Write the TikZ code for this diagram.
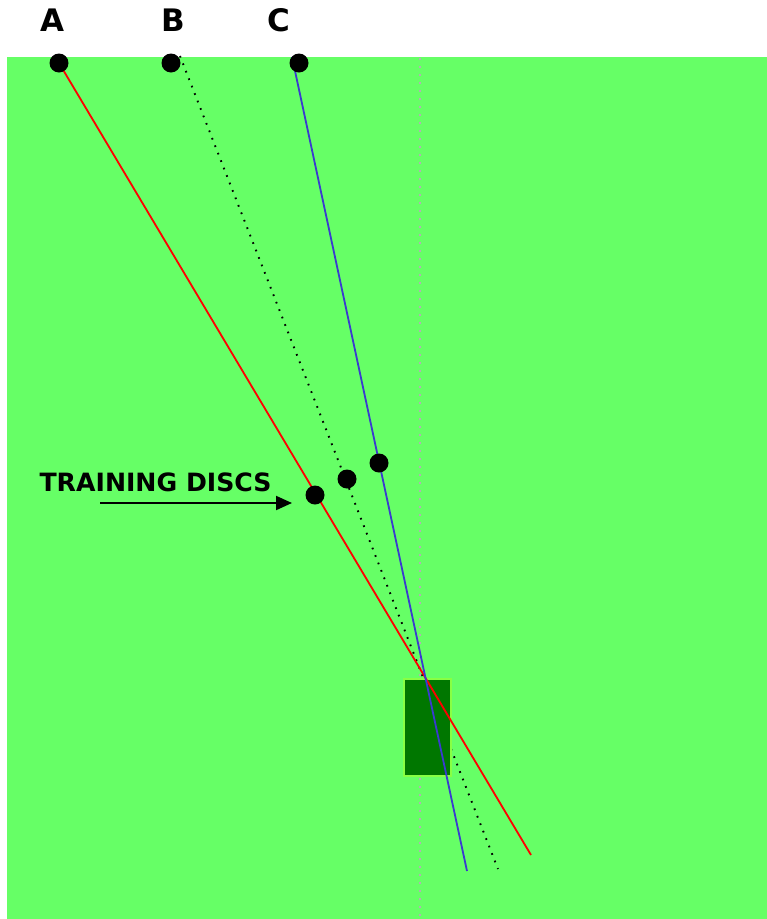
\documentclass[tikz,border=0pt]{standalone}
\usepackage{fontspec}
\setmainfont{DejaVu Sans}
\usetikzlibrary{arrows.meta}
\definecolor{field}{HTML}{66FF66}
\definecolor{tee}{HTML}{007700}
\definecolor{teeedge}{HTML}{88FF44}
\definecolor{blueline}{HTML}{3A3AD0}
\pgfdeclarelayer{ground}
\pgfdeclarelayer{paths}
\pgfsetlayers{ground,paths,main}

\begin{document}
\begin{tikzpicture}[
  x=1pt,y=-1pt,
  >={Triangle[length=16pt,width=14pt]},
  disc/.style={circle,fill=black,inner sep=0pt,minimum size=19pt},
  letter/.style={font=\fontsize{31}{31}\selectfont\bfseries},
  note/.style={font=\fontsize{25.2}{25.2}\selectfont\bfseries,anchor=west},
  path red/.style={red,line width=1.8pt},
  path blue/.style={blueline,line width=1.8pt},
  path dot/.style={black,line width=1.9pt,dash pattern=on 1.7pt off 6.3pt},
  centre line/.style={black!30,line width=1.8pt,dash pattern=on 1.8pt off 6.2pt}
]
  \useasboundingbox (0,0) rectangle (767,919);

  % start points
  \node[disc] (A) at (59,63) {};
  \node[disc] (B) at (171,63) {};
  \node[disc] (C) at (299,63) {};
  \node[letter] (labA) at (52,20) {A};
  \node[letter] (labB) at (173,20) {B};
  \node[letter] (labC) at (279,20) {C};

  % training discs
  \node[disc] (d1) at (315,495) {};
  \node[disc] (d2) at (347,479) {};
  \node[disc] (d3) at (379,463) {};
  \node[note] (lab) at (36,482) {TRAINING DISCS};
  \coordinate (tail) at (100,503);
  \coordinate (head) at (292,503);
  \draw[->,line width=2pt] (tail) -- (head);

  \coordinate (Bstart) at (180,56);
  \coordinate (Cstart) at (292,57);
  \coordinate (Aend) at (531,855);
  \coordinate (Bend) at (498,869);
  \coordinate (Cend) at (467,871);

  \begin{pgfonlayer}{ground}
    \fill[field] (7,57) rectangle (767,919);
    \draw[centre line] (420,58) -- (420,919);
  \end{pgfonlayer}

  \begin{pgfonlayer}{paths}
    \draw[path dot] (Bstart) -- (Bend);
    \node[draw=teeedge,fill=tee,line width=1.8pt,minimum width=47pt,minimum height=97pt,inner sep=0pt] (tee) at (427.5,727.5) {};
    \draw[path red] (A.center) -- (Aend);
    \draw[path blue] (Cstart) -- (Cend);
  \end{pgfonlayer}
\end{tikzpicture}
\end{document}
